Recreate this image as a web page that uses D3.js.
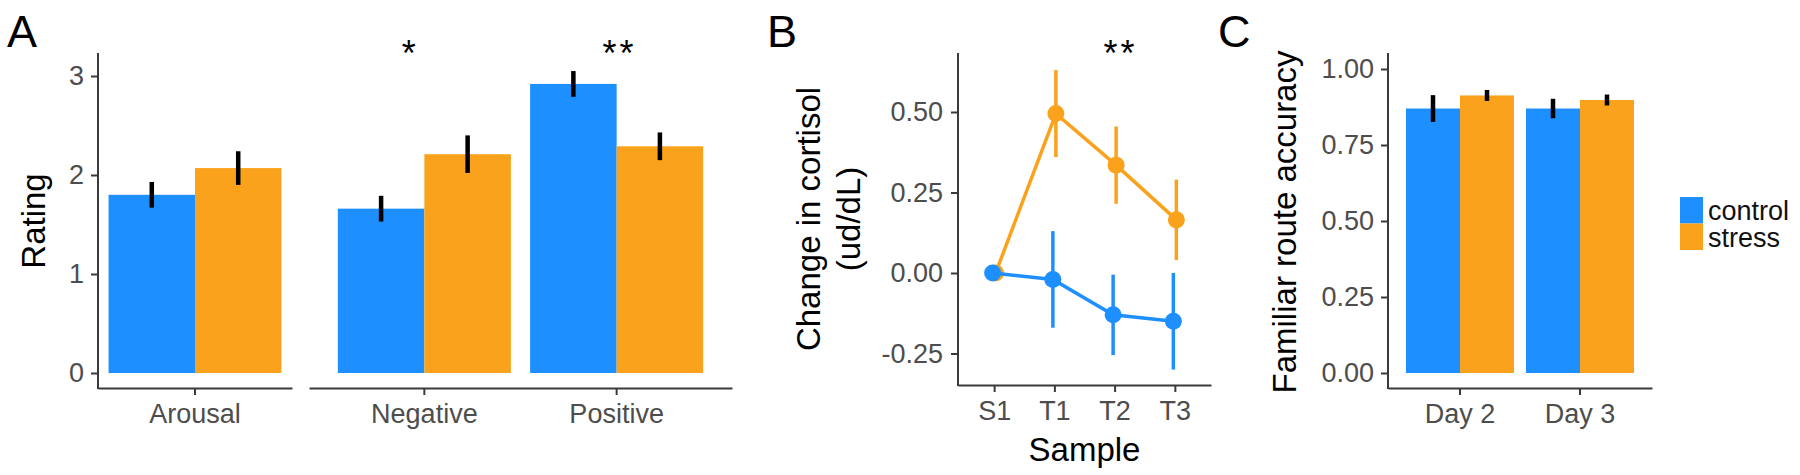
<!DOCTYPE html>
<html>
<head>
<meta charset="utf-8">
<script src="https://cdn.jsdelivr.net/npm/d3@7"></script>
<style>
    body { margin: 0; background: #fff; }
    svg text { font-family: "Liberation Sans", Arial, Helvetica, sans-serif; }
</style>
</head>
<body>
<svg id="figure"></svg>
<script>
// ---- data ----
const groups = ["control", "stress"]

// panel A: mood ratings
const moodFacets = [["Arousal"], ["Negative", "Positive"]]
const moodCategories = ["Arousal", "Negative", "Positive"]
const moodControl = [1.80, 1.66, 2.92]
const moodControlSE = [0.13, 0.13, 0.13]
const moodStress = [2.07, 2.21, 2.29]
const moodStressSE = [0.17, 0.19, 0.14]
const moodStars = ["", "*", "**"]
const ratingTicks = [0, 1, 2, 3]

// panel B: cortisol
const samples = ["S1", "T1", "T2", "T3"]
const cortisolControl = [0, -0.02, -0.13, -0.15]
const cortisolControlSE = [0, 0.15, 0.125, 0.15]
const cortisolStress = [0, 0.495, 0.335, 0.165]
const cortisolStressSE = [0, 0.135, 0.12, 0.125]
const cortisolStars = ["", "", "**", ""]
const cortisolTicks = [-0.25, 0, 0.25, 0.5]

// panel C: route accuracy
const days = ["Day 2", "Day 3"]
const accuracyControl = [0.87, 0.87]
const accuracyControlSE = [0.044, 0.032]
const accuracyStress = [0.913, 0.898]
const accuracyStressSE = [0.018, 0.018]
const accuracyTicks = [0, 0.25, 0.5, 0.75, 1]

// ---- layout / style ----
let config = {
    width: 1800,
    height: 475,
    colors: {
        control: "#1E8FFF",
        stress: "#FAA21B",
        axis: "#3a3a3a",
        tickText: "#4d4d4d",
        text: "#000"
    },
    tickFont: 27,
    titleFont: 33,
    letterFont: 45,
    starFont: 36,
    starBaseline: 66,
    panelA: {
        top: 53, bottom: 388, yZero: 373, yTop: 76, left: 98,
        facets: [
            { range: [98, 292], paddingInner: 0.1, paddingOuter: 0.055 },
            { range: [309, 732], paddingInner: 0.1, paddingOuter: 0.15 }
        ],
        starNudge: [0, -14, 3]
    },
    panelB: { top: 53, bottom: 385, left: 958, right: 1211, yZero: 273, yHalf: 112, dodge: 0.05 },
    panelC: { top: 53, bottom: 388, left: 1388, right: 1652, yZero: 373, yOne: 69 },
    legend: { x: 1680, y: 197, keyW: 23, keyH: 26.5 }
}

const color = d3.scaleOrdinal().domain(groups).range([config.colors.control, config.colors.stress])

function initializeFigure() {
    return d3.select("svg#figure")
        .attr("width", config.width)
        .attr("height", config.height)
        .style("background-color", "#fff")
}

function styleAxis(g) {
    g.attr("font-family", null).attr("font-size", null)
    g.select(".domain").attr("stroke", config.colors.axis).attr("stroke-width", 2)
    g.selectAll(".tick line").attr("stroke", config.colors.axis).attr("stroke-width", 2)
    g.selectAll(".tick text").attr("fill", config.colors.tickText).style("font-size", config.tickFont + "px")
}

function yAxisLine(svg, x, top, bottom) {
    svg.append("line")
        .attr("x1", x).attr("x2", x)
        .attr("y1", top).attr("y2", bottom + 1)
        .attr("stroke", config.colors.axis).attr("stroke-width", 2)
}

function panelLetter(svg, letter, x) {
    svg.append("text").text(letter)
        .attr("x", x).attr("y", 47)
        .style("font-size", config.letterFont + "px")
        .attr("fill", config.colors.text)
}

function yTitle(svg, lines, x, cy, lineGap) {
    lines.forEach((line, i) => {
        svg.append("text").text(line)
            .attr("transform", `translate(${x + i * lineGap},${cy}) rotate(-90)`)
            .attr("text-anchor", "middle")
            .style("font-size", config.titleFont + "px")
            .attr("fill", config.colors.text)
    })
}

function stars(svg, label, x) {
    svg.append("text").text(label)
        .attr("x", x).attr("y", config.starBaseline)
        .attr("text-anchor", "middle")
        .style("font-size", config.starFont + "px")
        .style("letter-spacing", "3px")
        .attr("fill", config.colors.text)
}

const drawPanelA = function (svg) {
    const p = config.panelA
    const y = d3.scaleLinear().domain([0, 3]).range([p.yZero, p.yTop])
    const g = svg.append("g")

    moodFacets.forEach((facet, fi) => {
        const fc = p.facets[fi]
        const x = d3.scaleBand().domain(facet).range(fc.range)
            .paddingInner(fc.paddingInner).paddingOuter(fc.paddingOuter)
        const xg = d3.scaleBand().domain(groups).range([0, x.bandwidth()])

        facet.forEach(cat => {
            const i = moodCategories.indexOf(cat)
            const vals = [moodControl[i], moodStress[i]]
            const ses = [moodControlSE[i], moodStressSE[i]]
            groups.forEach((grp, gi) => {
                g.append("rect")
                    .attr("x", x(cat) + xg(grp))
                    .attr("width", xg.bandwidth())
                    .attr("y", y(vals[gi]))
                    .attr("height", y(0) - y(vals[gi]))
                    .attr("fill", color(grp))
            })
            groups.forEach((grp, gi) => {
                const cx = x(cat) + xg(grp) + xg.bandwidth() / 2
                g.append("line")
                    .attr("x1", cx).attr("x2", cx)
                    .attr("y1", y(vals[gi] - ses[gi])).attr("y2", y(vals[gi] + ses[gi]))
                    .attr("stroke", "#000").attr("stroke-width", 4.5)
            })
            if (moodStars[i]) stars(svg, moodStars[i], x(cat) + x.bandwidth() / 2 + p.starNudge[i])
        })

        svg.append("g")
            .attr("transform", `translate(0,${p.bottom})`)
            .call(d3.axisBottom(x).tickSize(7).tickSizeOuter(0).tickPadding(9))
            .call(styleAxis)
    })

    yAxisLine(svg, p.left, p.top, p.bottom)
    svg.append("g")
        .attr("transform", `translate(${p.left},0)`)
        .call(d3.axisLeft(y).tickValues(ratingTicks).tickFormat(d3.format("d")).tickSize(7).tickPadding(7))
        .call(styleAxis)
        .call(a => a.select(".domain").remove())

    panelLetter(svg, "A", 7)
    yTitle(svg, ["Rating"], 45, 221, 0)
}

const drawPanelB = function (svg) {
    const p = config.panelB
    const x = d3.scalePoint().domain(samples).range([p.left, p.right]).padding(0.6)
    const y = d3.scaleLinear().domain([0, 0.5]).range([p.yZero, p.yHalf])
    const series = [
        { grp: "stress", vals: cortisolStress, se: cortisolStressSE, off: 0.5 },
        { grp: "control", vals: cortisolControl, se: cortisolControlSE, off: -0.5 }
    ]
    const g = svg.append("g")
    series.forEach(s => {
        const px = (d, i) => x(samples[i]) + s.off * p.dodge * x.step()
        g.selectAll(null).data(s.vals).join("line")
            .attr("x1", px).attr("x2", px)
            .attr("y1", (d, i) => y(d - s.se[i])).attr("y2", (d, i) => y(d + s.se[i]))
            .attr("stroke", color(s.grp)).attr("stroke-width", 3.5)
        g.append("path")
            .datum(s.vals)
            .attr("d", d3.line().x(px).y(d => y(d)))
            .attr("fill", "none")
            .attr("stroke", color(s.grp)).attr("stroke-width", 3.5)
        g.selectAll(null).data(s.vals).join("circle")
            .attr("cx", px).attr("cy", d => y(d)).attr("r", 8.5)
            .attr("fill", color(s.grp))
    })
    cortisolStars.forEach((st, i) => { if (st) stars(svg, st, x(samples[i]) + 6) })

    svg.append("g")
        .attr("transform", `translate(0,${p.bottom})`)
        .call(d3.axisBottom(x).tickSize(7).tickSizeOuter(0).tickPadding(9))
        .call(styleAxis)
    yAxisLine(svg, p.left, p.top, p.bottom)
    svg.append("g")
        .attr("transform", `translate(${p.left},0)`)
        .call(d3.axisLeft(y).tickValues(cortisolTicks).tickFormat(d3.format(".2f")).tickSize(7).tickPadding(8))
        .call(styleAxis)
        .call(a => a.select(".domain").remove())
        .call(a => a.selectAll(".tick text").text(d => d3.format(".2f")(d).replace("−", "-")))

    panelLetter(svg, "B", 767)
    yTitle(svg, ["Change in cortisol", "(ud/dL)"], 820, 219, 40)
    svg.append("text").text("Sample")
        .attr("x", (p.left + p.right) / 2).attr("y", 461)
        .attr("text-anchor", "middle")
        .style("font-size", config.titleFont + "px")
        .attr("fill", config.colors.text)
}

const drawPanelC = function (svg) {
    const p = config.panelC
    const x = d3.scaleBand().domain(days).range([p.left, p.right]).paddingInner(0.1).paddingOuter(0.15)
    const xg = d3.scaleBand().domain(groups).range([0, x.bandwidth()])
    const y = d3.scaleLinear().domain([0, 1]).range([p.yZero, p.yOne])
    const g = svg.append("g")
    days.forEach((day, i) => {
        const vals = [accuracyControl[i], accuracyStress[i]]
        const ses = [accuracyControlSE[i], accuracyStressSE[i]]
        groups.forEach((grp, gi) => {
            g.append("rect")
                .attr("x", x(day) + xg(grp)).attr("width", xg.bandwidth())
                .attr("y", y(vals[gi])).attr("height", y(0) - y(vals[gi]))
                .attr("fill", color(grp))
        })
        groups.forEach((grp, gi) => {
            const cx = x(day) + xg(grp) + xg.bandwidth() / 2
            g.append("line")
                .attr("x1", cx).attr("x2", cx)
                .attr("y1", y(vals[gi] - ses[gi])).attr("y2", y(vals[gi] + ses[gi]))
                .attr("stroke", "#000").attr("stroke-width", 4.5)
        })
    })
    svg.append("g")
        .attr("transform", `translate(0,${p.bottom})`)
        .call(d3.axisBottom(x).tickSize(7).tickSizeOuter(0).tickPadding(9))
        .call(styleAxis)
    yAxisLine(svg, p.left, p.top, p.bottom)
    svg.append("g")
        .attr("transform", `translate(${p.left},0)`)
        .call(d3.axisLeft(y).tickValues(accuracyTicks).tickFormat(d3.format(".2f")).tickSize(7).tickPadding(7))
        .call(styleAxis)
        .call(a => a.select(".domain").remove())

    panelLetter(svg, "C", 1218)
    yTitle(svg, ["Familiar route accuracy"], 1296, 222, 0)
}

const drawLegend = function (svg) {
    const l = config.legend
    groups.forEach((grp, i) => {
        svg.append("rect")
            .attr("x", l.x).attr("y", l.y + i * l.keyH)
            .attr("width", l.keyW).attr("height", l.keyH)
            .attr("fill", color(grp))
        svg.append("text").text(grp)
            .attr("x", l.x + l.keyW + 5).attr("y", l.y + i * l.keyH + 23)
            .style("font-size", config.tickFont + "px")
            .attr("fill", "#111")
    })
}

const svg = initializeFigure()
drawPanelA(svg)
drawPanelB(svg)
drawPanelC(svg)
drawLegend(svg)
</script>
</body>
</html>
